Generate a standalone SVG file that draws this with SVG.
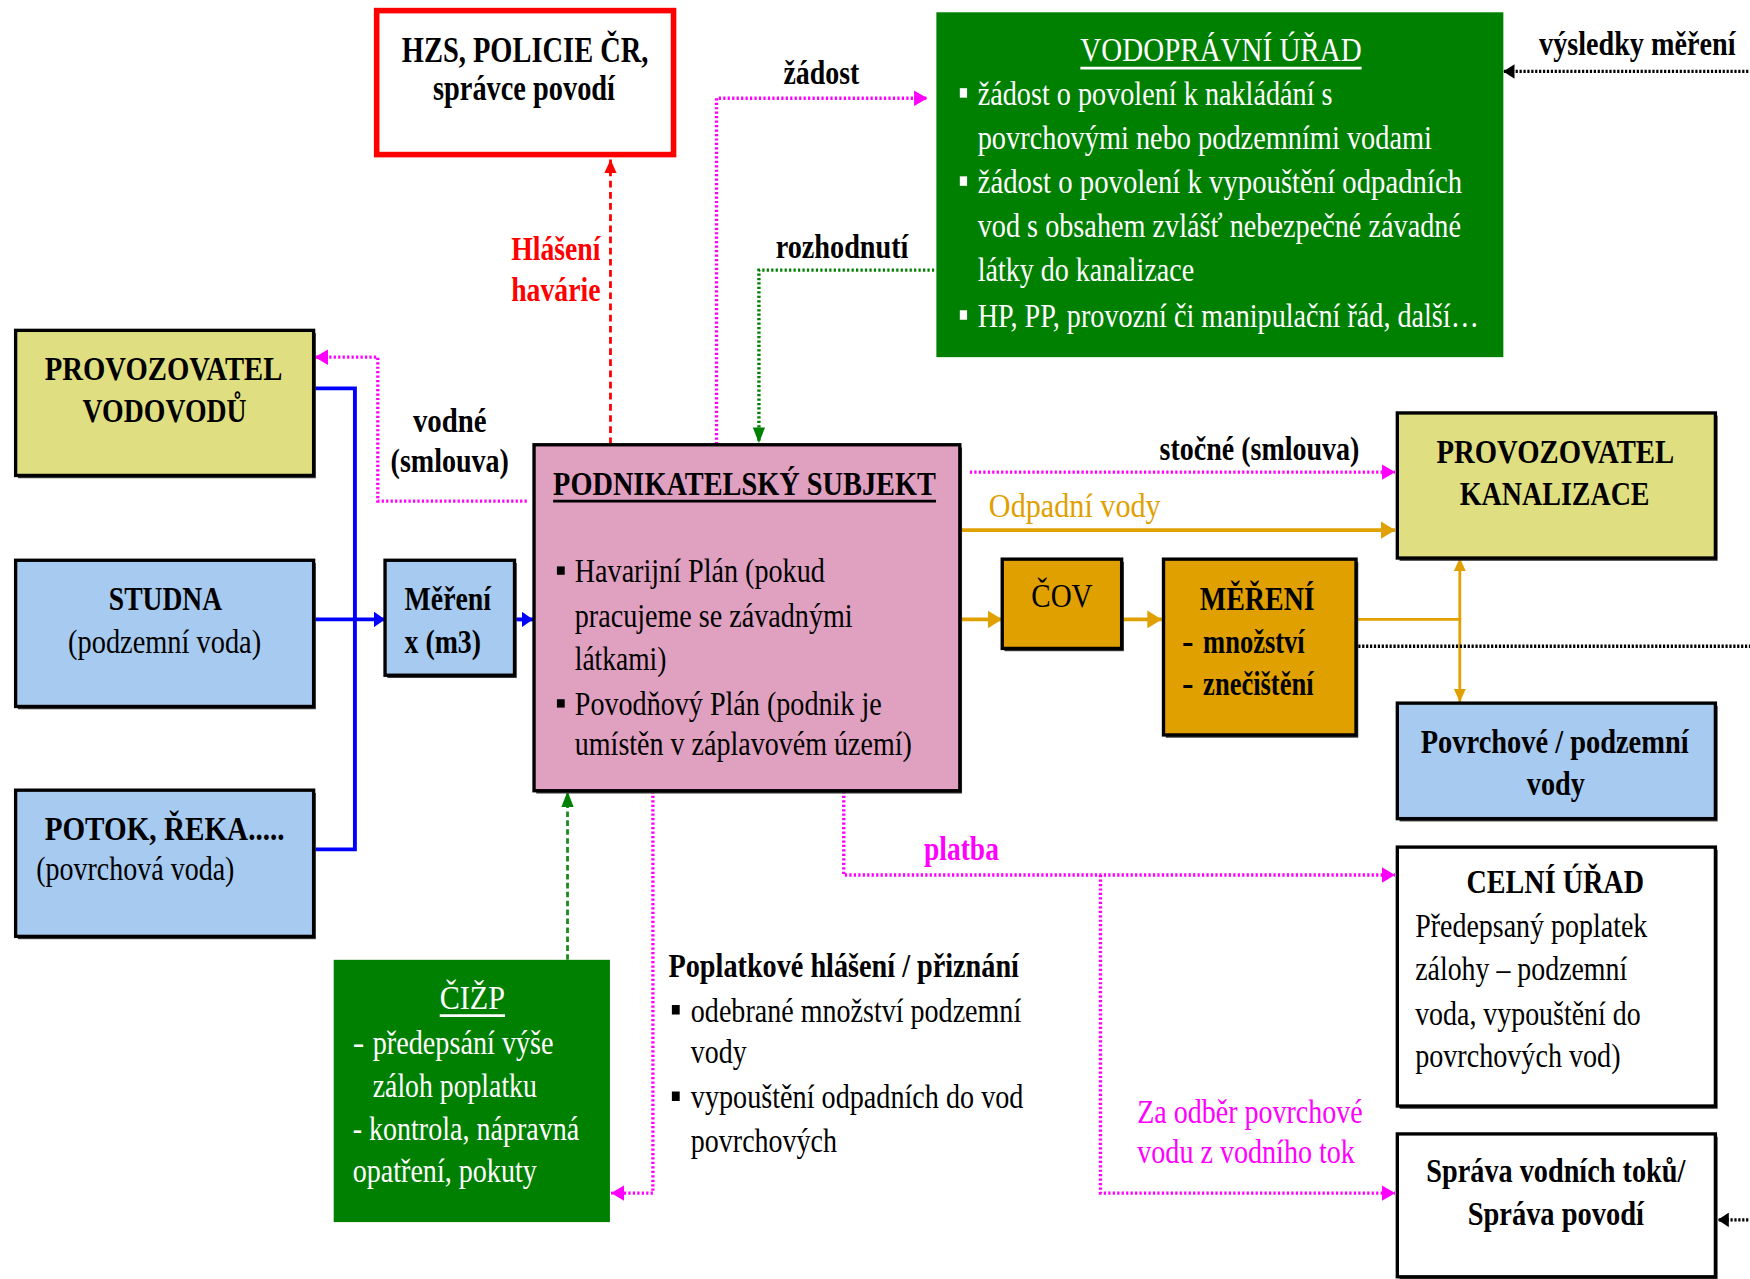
<svg xmlns="http://www.w3.org/2000/svg" width="1750" height="1279" viewBox="0 0 1750 1279">
<style>
.t{font-family:"Liberation Serif","Times New Roman",serif;font-size:31px;fill:#000}
.b{font-weight:bold}
.w{fill:#fff}
.m{fill:#FF00FF}
.r{fill:#FF0000}
.o{fill:#E0A000}
.bx{stroke:#000;stroke-width:3}
.sh{fill:#3a3a3a}
.kh{fill:#DFDF82}
.lb{fill:#A6CAF0}
.pk{fill:#E0A0C0}
.or{fill:#E0A000}
.gr{fill:#008000}
.wh{fill:#fff}
.c{fill:none}
.cm{stroke:#FF00FF;stroke-width:3;stroke-dasharray:2 2}
.cr{stroke:#FF0000;stroke-width:2.5;stroke-dasharray:6 4}
.cg{stroke:#008000;stroke-width:3;stroke-dasharray:2 2}
.cg2{stroke:#1a8a1a;stroke-width:2.5;stroke-dasharray:5 3}
.ck{stroke:#000;stroke-width:3;stroke-dasharray:2 1.5}
.cb{stroke:#0000FF;stroke-width:3.5}
.co{stroke:#E0A000;stroke-width:3.5}
.co2{stroke:#E0A000;stroke-width:2.5}
</style>
<defs>
<marker id="aM" viewBox="0 0 10 10" refX="10" refY="5" markerWidth="12" markerHeight="14" markerUnits="userSpaceOnUse" orient="auto" preserveAspectRatio="none"><path d="M0,0L10,5L0,10z" fill="#FF00FF"/></marker>
<marker id="aR" viewBox="0 0 10 10" refX="10" refY="5" markerWidth="12" markerHeight="11" markerUnits="userSpaceOnUse" orient="auto" preserveAspectRatio="none"><path d="M0,0L10,5L0,10z" fill="#FF0000"/></marker>
<marker id="aG" viewBox="0 0 10 10" refX="10" refY="5" markerWidth="14" markerHeight="11" markerUnits="userSpaceOnUse" orient="auto" preserveAspectRatio="none"><path d="M0,0L10,5L0,10z" fill="#008000"/></marker>
<marker id="aK" viewBox="0 0 10 10" refX="10" refY="5" markerWidth="10" markerHeight="13" markerUnits="userSpaceOnUse" orient="auto" preserveAspectRatio="none"><path d="M0,0L10,5L0,10z" fill="#000"/></marker>
<marker id="aB" viewBox="0 0 10 10" refX="10" refY="5" markerWidth="10" markerHeight="14" markerUnits="userSpaceOnUse" orient="auto" preserveAspectRatio="none"><path d="M0,0L10,5L0,10z" fill="#0000FF"/></marker>
<marker id="aO" viewBox="0 0 10 10" refX="10" refY="5" markerWidth="13" markerHeight="16" markerUnits="userSpaceOnUse" orient="auto" preserveAspectRatio="none"><path d="M0,0L10,5L0,10z" fill="#E0A000"/></marker>
<marker id="aO2" viewBox="0 0 10 10" refX="10" refY="5" markerWidth="12" markerHeight="11" markerUnits="userSpaceOnUse" orient="auto" preserveAspectRatio="none"><path d="M0,0L10,5L0,10z" fill="#E0A000"/></marker>
</defs>
<rect x="0" y="0" width="1750" height="1279" fill="#fff"/>
<g transform="scale(1.11607)">

<g id="connectors" class="c">
<path class="cr" d="M547,398V143" marker-end="url(#aR)"/>
<path class="cm" d="M642,398V88H831" marker-end="url(#aM)"/>
<path class="cg" d="M837,242H680V397" marker-end="url(#aG)"/>
<path class="cm" d="M472,449H338.5V320H282" marker-end="url(#aM)"/>
<path class="ck" d="M1570,64H1347" marker-end="url(#aK)"/>
<path class="cb" d="M281,348H318V761H281"/>
<path class="cb" d="M281,555H345" marker-end="url(#aB)"/>
<path class="cb" d="M461,555H477.5" marker-end="url(#aB)"/>
<path class="cm" d="M869,423H1250" marker-end="url(#aM)"/>
<path class="co" d="M852,475H1250" marker-end="url(#aO)"/>
<path class="co" d="M860,555H898" marker-end="url(#aO)"/>
<path class="co" d="M1005,555H1041" marker-end="url(#aO)"/>
<path class="co2" d="M1215,555H1308"/>
<path class="co2" d="M1308,556V500" marker-end="url(#aO2)"/>
<path class="co2" d="M1308,554V629" marker-end="url(#aO2)"/>
<path class="ck" d="M1217,579H1570"/>
<path class="cm" d="M756,709V784H1250" marker-end="url(#aM)"/>
<path class="cm" d="M986,784V1069H1250" marker-end="url(#aM)"/>
<path class="ck" d="M1570,1093H1539" marker-end="url(#aK)"/>
<path class="cg2" d="M508.5,860V709" marker-end="url(#aG)"/>
<path class="cm" d="M585,709V1069H547.5" marker-end="url(#aM)"/>
</g>

<g id="lbl-zadost"><text class="t b" x="702" y="75" textLength="68" lengthAdjust="spacingAndGlyphs">žádost</text></g>
<g id="lbl-rozhodnuti"><text class="t b" x="695" y="231" textLength="119" lengthAdjust="spacingAndGlyphs">rozhodnutí</text></g>
<g id="lbl-haverie">
<text class="t b r" x="458" y="233" textLength="80" lengthAdjust="spacingAndGlyphs">Hlášení</text>
<text class="t b r" x="458" y="270" textLength="80" lengthAdjust="spacingAndGlyphs">havárie</text>
</g>
<g id="lbl-vysledky"><text class="t b" transform="translate(1379,49) scale(0.8,1)" x="0" y="0" textLength="220" lengthAdjust="spacingAndGlyphs">výsledky měření</text></g>
<g id="lbl-vodne">
<text class="t b" x="370" y="387" textLength="66" lengthAdjust="spacingAndGlyphs">vodné</text>
<text class="t b" x="350" y="423" textLength="106" lengthAdjust="spacingAndGlyphs">(smlouva)</text>
</g>
<g id="lbl-stocne"><text class="t b" x="1039" y="412" textLength="179" lengthAdjust="spacingAndGlyphs">stočné (smlouva)</text></g>
<g id="lbl-odpadni"><text class="t o" x="886" y="463" textLength="154" lengthAdjust="spacingAndGlyphs">Odpadní vody</text></g>
<g id="lbl-platba"><text class="t b m" x="828" y="770.5" textLength="67" lengthAdjust="spacingAndGlyphs">platba</text></g>
<g id="lbl-zaodber">
<text class="t m" x="1019" y="1006.5" textLength="202" lengthAdjust="spacingAndGlyphs">Za odběr povrchové</text>
<text class="t m" x="1019" y="1042" textLength="195" lengthAdjust="spacingAndGlyphs">vodu z vodního tok</text>
</g>

<g id="hzs">
<rect x="337.5" y="9.5" width="266" height="129" fill="#fff" stroke="#FF0000" stroke-width="5"/>
<text class="t b" style="font-size:33px" x="360" y="56" textLength="221" lengthAdjust="spacingAndGlyphs">HZS, POLICIE ČR,</text>
<text class="t b" style="font-size:33px" x="388" y="90" textLength="163" lengthAdjust="spacingAndGlyphs">správce povodí</text>
</g>

<g id="vodopravni-urad">
<rect class="gr" x="839" y="11" width="508" height="309"/>
<text class="t w" x="968" y="55" textLength="252" lengthAdjust="spacingAndGlyphs">VODOPRÁVNÍ ÚŘAD</text>
<line x1="968" y1="61" x2="1220" y2="61" stroke="#fff" stroke-width="2.5"/>
<rect class="wh" x="860" y="79" width="6.5" height="8.5"/>
<rect class="wh" x="860" y="158" width="6.5" height="8.5"/>
<rect class="wh" x="860" y="278" width="6.5" height="8.5"/>
<text class="t w" x="876" y="94" textLength="318" lengthAdjust="spacingAndGlyphs">žádost o povolení k nakládání s</text>
<text class="t w" x="876" y="133.5" textLength="407" lengthAdjust="spacingAndGlyphs">povrchovými nebo podzemními vodami</text>
<text class="t w" x="876" y="173" textLength="434" lengthAdjust="spacingAndGlyphs">žádost  o povolení k vypouštění odpadních</text>
<text class="t w" x="876" y="212.5" textLength="433" lengthAdjust="spacingAndGlyphs">vod s obsahem zvlášť nebezpečné závadné</text>
<text class="t w" x="876" y="252" textLength="194" lengthAdjust="spacingAndGlyphs">látky do kanalizace</text>
<text class="t w" x="876" y="293" textLength="449" lengthAdjust="spacingAndGlyphs">HP, PP, provozní či manipulační řád, další…</text>
</g>

<g id="provozovatel-vodovodu">
<rect class="sh" x="16" y="298.5" width="267" height="130"/>
<rect class="kh bx" x="14" y="296" width="267" height="130"/>
<text class="t b" x="40" y="340.5" textLength="213" lengthAdjust="spacingAndGlyphs">PROVOZOVATEL</text>
<text class="t b" x="74" y="378" textLength="147" lengthAdjust="spacingAndGlyphs">VODOVODŮ</text>
</g>

<g id="studna">
<rect class="sh" x="16" y="504.5" width="267" height="131"/>
<rect class="lb bx" x="14" y="502" width="267" height="131"/>
<text class="t b" x="97.5" y="546.5" textLength="101.5" lengthAdjust="spacingAndGlyphs">STUDNA</text>
<text class="t" x="61" y="585" textLength="173" lengthAdjust="spacingAndGlyphs">(podzemní voda)</text>
</g>

<g id="potok">
<rect class="sh" x="16" y="710.5" width="267" height="131"/>
<rect class="lb bx" x="14" y="708" width="267" height="131"/>
<text class="t b" x="40" y="752.5" textLength="215" lengthAdjust="spacingAndGlyphs">POTOK, ŘEKA.....</text>
<text class="t" x="32.5" y="788.5" textLength="177.5" lengthAdjust="spacingAndGlyphs">(povrchová voda)</text>
</g>

<g id="mereni-x">
<rect class="sh" x="347" y="504.5" width="116" height="103"/>
<rect class="lb bx" x="345" y="502" width="116" height="103"/>
<text class="t b" x="362.5" y="546.5" textLength="77.5" lengthAdjust="spacingAndGlyphs">Měření</text>
<text class="t b" x="362.5" y="585" textLength="68.5" lengthAdjust="spacingAndGlyphs">x (m3)</text>
</g>

<g id="podnikatelsky-subjekt">
<rect class="sh" x="480.5" y="401" width="381.5" height="310"/>
<rect class="pk bx" x="478.5" y="398.5" width="381.5" height="310"/>
<text class="t b" x="495.6" y="443.5" textLength="343" lengthAdjust="spacingAndGlyphs">PODNIKATELSKÝ SUBJEKT</text>
<line x1="495.6" y1="449" x2="838.7" y2="449" stroke="#000" stroke-width="2.5"/>
<rect x="499" y="507.5" width="7" height="7.5"/>
<rect x="499" y="626.5" width="7" height="7.5"/>
<text class="t" x="515" y="521.5" textLength="224" lengthAdjust="spacingAndGlyphs">Havarijní Plán (pokud</text>
<text class="t" x="515" y="561.6" textLength="249" lengthAdjust="spacingAndGlyphs">pracujeme se závadnými</text>
<text class="t" x="515" y="600.3" textLength="82" lengthAdjust="spacingAndGlyphs">látkami)</text>
<text class="t" x="515" y="640.6" textLength="275" lengthAdjust="spacingAndGlyphs">Povodňový Plán (podnik je</text>
<text class="t" x="515" y="676.5" textLength="302" lengthAdjust="spacingAndGlyphs">umístěn v záplavovém území)</text>
</g>

<g id="provozovatel-kanalizace">
<rect class="sh" x="1254" y="372.5" width="285" height="130"/>
<rect class="kh bx" x="1252" y="370" width="285" height="130"/>
<text class="t b" x="1287" y="415" textLength="213" lengthAdjust="spacingAndGlyphs">PROVOZOVATEL</text>
<text class="t b" x="1308" y="452.5" textLength="170" lengthAdjust="spacingAndGlyphs">KANALIZACE</text>
</g>

<g id="cov">
<rect class="sh" x="900" y="503.5" width="107" height="80"/>
<rect class="or bx" x="898" y="501" width="107" height="80"/>
<text class="t" x="924" y="544" textLength="55" lengthAdjust="spacingAndGlyphs">ČOV</text>
</g>

<g id="mereni">
<rect class="sh" x="1044.5" y="503.5" width="172.5" height="157.5"/>
<rect class="or bx" x="1042.5" y="501" width="172.5" height="157.5"/>
<text class="t b" x="1075" y="547" textLength="103" lengthAdjust="spacingAndGlyphs">MĚŘENÍ</text>
<text class="t b" x="1059" y="585">-<tspan x="1078" textLength="91" lengthAdjust="spacingAndGlyphs">množství</tspan></text>
<text class="t b" x="1059" y="623">-<tspan x="1078" textLength="99" lengthAdjust="spacingAndGlyphs">znečištění</tspan></text>
</g>

<g id="povrchove-podzemni-vody">
<rect class="sh" x="1254" y="632.5" width="285" height="103.5"/>
<rect class="lb bx" x="1252" y="630" width="285" height="103.5"/>
<text class="t b" x="1273" y="675" textLength="240" lengthAdjust="spacingAndGlyphs">Povrchové / podzemní</text>
<text class="t b" x="1368" y="712" textLength="52" lengthAdjust="spacingAndGlyphs">vody</text>
</g>

<g id="celni-urad">
<rect class="sh" x="1254" y="761.5" width="285" height="232"/>
<rect class="wh bx" x="1252" y="759" width="285" height="232"/>
<text class="t b" x="1314" y="800" textLength="159" lengthAdjust="spacingAndGlyphs">CELNÍ ÚŘAD</text>
<text class="t" x="1268" y="840" textLength="208" lengthAdjust="spacingAndGlyphs">Předepsaný poplatek</text>
<text class="t" x="1268" y="878" textLength="190" lengthAdjust="spacingAndGlyphs">zálohy – podzemní</text>
<text class="t" x="1268" y="918" textLength="202" lengthAdjust="spacingAndGlyphs">voda, vypouštění do</text>
<text class="t" x="1268" y="956" textLength="184" lengthAdjust="spacingAndGlyphs">povrchových vod)</text>
</g>

<g id="sprava-vodnich-toku">
<rect class="sh" x="1254" y="1018.5" width="285" height="128"/>
<rect class="wh bx" x="1252" y="1016" width="285" height="128"/>
<text class="t b" x="1278" y="1059" textLength="232" lengthAdjust="spacingAndGlyphs">Správa vodních toků/</text>
<text class="t b" x="1315" y="1098" textLength="158" lengthAdjust="spacingAndGlyphs">Správa povodí</text>
</g>

<g id="cizp">
<rect class="gr" x="299" y="860" width="247.5" height="235"/>
<text class="t w" x="394" y="904" textLength="58.5" lengthAdjust="spacingAndGlyphs">ČIŽP</text>
<line x1="394" y1="910" x2="452.5" y2="910" stroke="#fff" stroke-width="2.5"/>
<text class="t w" x="316" y="944">-<tspan x="334" textLength="162" lengthAdjust="spacingAndGlyphs">předepsání výše</tspan></text>
<text class="t w" x="334" y="983" textLength="147" lengthAdjust="spacingAndGlyphs">záloh poplatku</text>
<text class="t w" x="316" y="1021.5" textLength="203" lengthAdjust="spacingAndGlyphs">- kontrola, nápravná</text>
<text class="t w" x="316" y="1059" textLength="165" lengthAdjust="spacingAndGlyphs">opatření, pokuty</text>
</g>

<g id="poplatkove-hlaseni">
<text class="t b" x="599" y="875" textLength="314" lengthAdjust="spacingAndGlyphs">Poplatkové hlášení / přiznání</text>
<rect x="602" y="900.5" width="7" height="8.5"/>
<rect x="602" y="978" width="7" height="8.5"/>
<text class="t" x="619" y="915.5" textLength="296" lengthAdjust="spacingAndGlyphs">odebrané množství podzemní</text>
<text class="t" x="619" y="952.5" textLength="50" lengthAdjust="spacingAndGlyphs">vody</text>
<text class="t" x="619" y="993" textLength="298" lengthAdjust="spacingAndGlyphs">vypouštění odpadních do vod</text>
<text class="t" x="619" y="1032" textLength="131" lengthAdjust="spacingAndGlyphs">povrchových</text>
</g>

</g>
</svg>
